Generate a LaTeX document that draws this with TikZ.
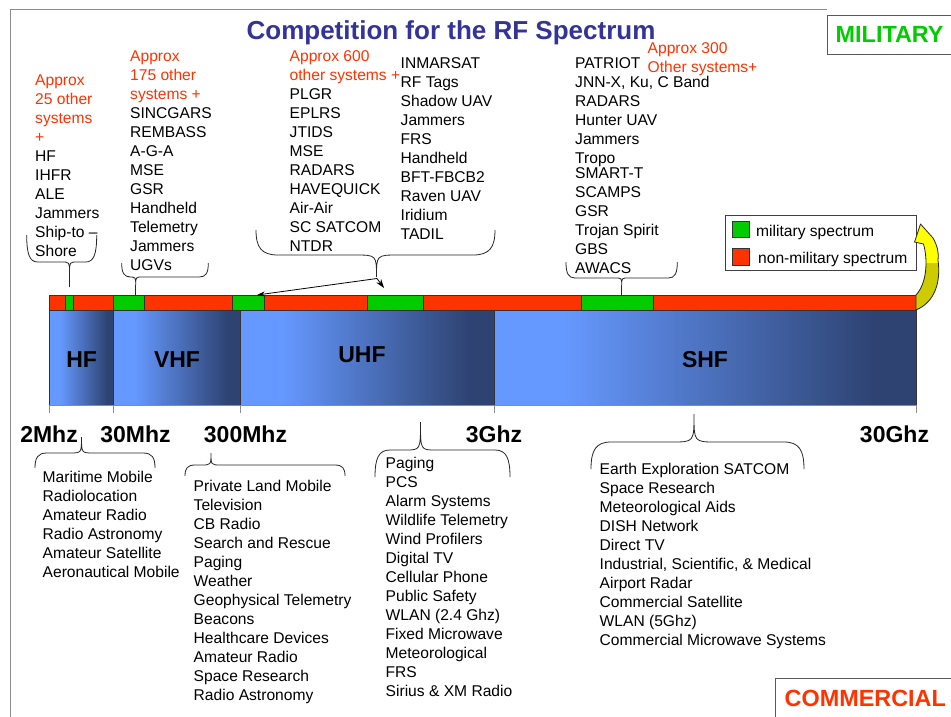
\documentclass[tikz,border=0pt]{standalone}
\usepackage{fontspec}
\setmainfont{Liberation Sans}
\usetikzlibrary{arrows.meta}

\definecolor{specred}{HTML}{FF3300}
\definecolor{specgreen}{HTML}{00CC00}
\definecolor{titleblue}{HTML}{333399}
\definecolor{bandlight}{HTML}{6699FF}
\definecolor{banddark}{HTML}{2E4372}
\definecolor{arrowyellow}{HTML}{FFFF00}
\definecolor{arrowolive}{HTML}{CCCC00}
\definecolor{framegray}{HTML}{8C8C8C}

% light-to-dark blue for the band blocks
\pgfdeclarehorizontalshading{bandshade}{100bp}{color(0bp)=(bandlight); color(33bp)=(bandlight); color(70bp)=(banddark); color(100bp)=(banddark)}

% curly brace: x-left, x-right, x-tip, y-ends, y-middle, y-tip, end radius, tip radius
\newcommand\curlybrace[8]{%
  \draw[bracestyle] (#1,#4)
    .. controls (#1,{#5+0.3*(#4-#5)}) and ({#1+0.25*#7},#5) .. ({#1+#7},#5)
    -- ({#3-#8},#5) .. controls (#3,#5) .. (#3,#6) .. controls (#3,#5) .. ({#3+#8},#5)
    -- ({#2-#7},#5)
    .. controls ({#2-0.25*#7},#5) and (#2,{#5+0.3*(#4-#5)}) .. (#2,#4);}
\newcommand\firstln{\rule{0pt}{14pt}}

\tikzset{
  bracestyle/.style={draw=black!85, line width=0.8pt},
  lst/.style={anchor=north west, inner sep=0pt, align=left,
    font=\fontsize{15.6}{19}\selectfont},
  bandlbl/.style={anchor=base, inner sep=0pt, font=\fontsize{23}{27}\selectfont\bfseries},
  freqlbl/.style={anchor=base, inner sep=0pt, font=\fontsize{23}{27}\selectfont\bfseries},
  seg/.style={draw=black!80, line width=0.7pt},
  band/.style={draw=black!80, line width=0.7pt},
  legtxt/.style={anchor=base west, inner sep=0pt, font=\fontsize{15.6}{19}\selectfont},
}

\begin{document}
\begin{tikzpicture}[x=1pt, y=-1pt]
\useasboundingbox (0,0) rectangle (951,716);
\clip (0,0) rectangle (951,716);
\fill[white] (0,0) rectangle (951,716);

% page frame
\draw[framegray, line width=0.9pt] (827,9) -- (10,9) -- (10,720);

% title
\node[anchor=base, inner sep=0pt, font=\fontsize{26}{30}\selectfont\bfseries, text=titleblue]
  (title) at (451,39.3) {Competition for the RF Spectrum};

% corner labels
\draw[black!65, line width=1pt] (960,15) -- (827,15) -- (827,54) -- (960,54);
\node[anchor=base west, inner sep=0pt, font=\fontsize{23.4}{27}\selectfont\bfseries, text=specgreen]
  (military) at (835.5,42.2) {MILITARY};
\draw[black!65, line width=1pt] (775,720) -- (775,678) -- (960,678);
\node[anchor=base west, inner sep=0pt, font=\fontsize{23.4}{27}\selectfont\bfseries, text=specred]
  (commercial) at (784.5,706.2) {COMMERCIAL};

% allocation strip
\foreach \a/\b/\c in {49.3/65.7/specred, 65.7/73.3/specgreen, 73.3/113.7/specred,
  113.7/144.7/specgreen, 144.7/232.7/specred, 232.7/264.3/specgreen,
  264.3/367.3/specred, 367.3/423.3/specgreen, 423.3/581.7/specred,
  581.7/653.7/specgreen, 653.7/916/specred}
  \filldraw[seg, fill=\c] (\a,295) rectangle (\b,310);

% band blocks
\foreach \a/\b in {49.3/113.7, 113.7/240.3, 240.3/494.3, 494.3/916}{
  \shade[shading=bandshade] (\a,310) rectangle (\b,405);
  \draw[band] (\a,405) -- (\a,310) -- (\b,310) -- (\b,405);
}
\draw[framegray, line width=0.9pt] (49.3,405) -- (916,405);
\foreach \x in {49.3, 113.7, 240.3, 494.3, 916}
  \draw[framegray, line width=0.9pt] (\x,405) -- (\x,413);

\node[bandlbl] (hf)  at (81.7,367.2) {HF};
\node[bandlbl] (vhf) at (177,367.2) {VHF};
\node[bandlbl] (uhf) at (362,362.2) {UHF};
\node[bandlbl] (shf) at (705,367.2) {SHF};

\node[freqlbl] (f2m)   at (49,442.2)    {2Mhz};
\node[freqlbl] (f30m)  at (135.5,442.2) {30Mhz};
\node[freqlbl] (f300m) at (245.5,442.2) {300Mhz};
\node[freqlbl] (f3g)   at (494,442.2)   {3Ghz};
\node[freqlbl] (f30g)  at (894.5,442.2) {30Ghz};

% legend
\draw[black!75, line width=0.8pt] (725,215) rectangle (916,270.7);
\filldraw[seg, fill=specgreen] (732.7,221.7) rectangle (749,237.7);
\filldraw[seg, fill=specred] (732.7,248) rectangle (749,265);
\node[legtxt] (legmil) at (756,236.6) {military spectrum};
\node[legtxt] (legciv) at (758,263.6) {non-military spectrum};

% curved arrow from the strip to the legend
\begin{scope}
  \clip (920.5,224) -- (933,238) .. controls (937,245) and (939,252) .. (938,260)
    .. controls (941,282) and (935,302) .. (916,310) -- (916,295)
    .. controls (927,283) and (928,260) .. (923.5,244) -- (914.5,242) -- cycle;
  \fill[arrowyellow] (900,215) rectangle (951,320);
  \fill[arrowolive] (900,263) rectangle (951,320);
\end{scope}
\draw[black!85, line width=0.8pt, line join=round]
  (920.5,224) -- (933,238) .. controls (937,245) and (939,252) .. (938,260)
    .. controls (941,282) and (935,302) .. (916,310) -- (916,295)
    .. controls (927,283) and (928,260) .. (923.5,244) -- (914.5,242) -- cycle;

% military users (top)
\node[lst] (hfmil) at (35,71.6) {\firstln\textcolor{specred}{Approx}\\
  \textcolor{specred}{25 other}\\ \textcolor{specred}{systems}\\ \textcolor{specred}{+}\\
  HF\\ IHFR\\ ALE\\ Jammers\\ Ship-to –\\ Shore};
\node[lst] (vhfmil) at (130,47.6) {\firstln\textcolor{specred}{Approx}\\
  \textcolor{specred}{175 other}\\ \textcolor{specred}{systems +}\\
  SINCGARS\\ REMBASS\\ A-G-A\\ MSE\\ GSR\\ Handheld\\ Telemetry\\ Jammers\\ UGVs};
\node[lst] (uhfmila) at (289.5,47.6) {\firstln\textcolor{specred}{Approx 600}\\
  \textcolor{specred}{other systems +}\\
  PLGR\\ EPLRS\\ JTIDS\\ MSE\\ RADARS\\ HAVEQUICK\\ Air-Air\\ SC SATCOM\\ NTDR};
\node[lst] (uhfmilb) at (400.5,54.6) {\firstln INMARSAT\\ RF Tags\\ Shadow UAV\\
  Jammers\\ FRS\\ Handheld\\ BFT-FBCB2\\ Raven UAV\\ Iridium\\ TADIL};
\node[lst] (shfmil) at (575,54.6) {\firstln PATRIOT\\ JNN-X, Ku, C Band\\ RADARS\\
  Hunter UAV\\ Jammers\\ Tropo\\[-4pt] SMART-T\\ SCAMPS\\ GSR\\ Trojan Spirit\\ GBS\\ AWACS};
\node[lst] (shfcount) at (647.5,39.6) {\firstln\textcolor{specred}{Approx 300}\\
  \textcolor{specred}{Other systems+}};

% commercial users (bottom)
\node[lst] (hfcom) at (42.5,468.6) {\firstln Maritime Mobile\\ Radiolocation\\
  Amateur Radio\\ Radio Astronomy\\ Amateur Satellite\\ Aeronautical Mobile};
\node[lst] (vhfcom) at (193.5,477.3) {\firstln Private Land Mobile\\ Television\\
  CB Radio\\ Search and Rescue\\ Paging\\ Weather\\ Geophysical Telemetry\\ Beacons\\
  Healthcare Devices\\ Amateur Radio\\ Space Research\\ Radio Astronomy};
\node[lst] (uhfcom) at (385.5,454.3) {\firstln Paging\\ PCS\\ Alarm Systems\\
  Wildlife Telemetry\\ Wind Profilers\\ Digital TV\\ Cellular Phone\\ Public Safety\\
  WLAN (2.4 Ghz)\\ Fixed Microwave\\ Meteorological\\ FRS\\ Sirius \& XM Radio};
\node[lst] (shfcom) at (599.5,460.6) {\firstln Earth Exploration SATCOM\\
  Space Research\\ Meteorological Aids\\ DISH Network\\ Direct TV\\
  Industrial, Scientific, \& Medical\\ Airport Radar\\ Commercial Satellite\\
  WLAN (5Ghz)\\ Commercial Microwave Systems};

% braces above the strip
\curlybrace{26.7}{96.7}{69.5}{235}{262}{273}{11}{8}
\coordinate (hfstem) at (69.5,273);
\coordinate (hfseg) at (69.5,287);
\draw[bracestyle] (hfstem) -- (hfseg);
\curlybrace{121.7}{208.3}{135.7}{263}{277}{285}{9}{7}
\coordinate (vhfstem) at (135.7,285);
\coordinate (vhfseg) at (135.7,295);
\draw[bracestyle] (vhfstem) -- (vhfseg);
\curlybrace{256}{495}{376.5}{230}{255}{277}{22}{22}
\curlybrace{566}{677.3}{621.7}{262}{278}{285}{9}{7}
\coordinate (shfstem) at (621.7,285);
\coordinate (shfseg) at (621.7,295);
\draw[bracestyle] (shfstem) -- (shfseg);

% UHF brace pointers
\coordinate (uhftip) at (377,278.5);
\coordinate (uhfgreenA) at (257,295);
\coordinate (uhfgreenB) at (384,288);
\draw[black, line width=0.8pt, -{Stealth[length=8pt, width=5pt]}] (uhftip) -- (uhfgreenA);
\draw[black, line width=0.8pt, -{Stealth[length=9pt, width=6pt]}] (uhftip) -- (uhfgreenB);

% braces below the bands
\curlybrace{35}{155}{81.5}{468}{453}{437}{12}{12}
\curlybrace{185}{345}{211}{476}{465}{453}{10}{10}
\curlybrace{375}{510}{420.5}{477}{450}{422}{15}{15}
\curlybrace{591}{804}{694}{469}{442}{414}{20}{22}
\end{tikzpicture}
\end{document}
